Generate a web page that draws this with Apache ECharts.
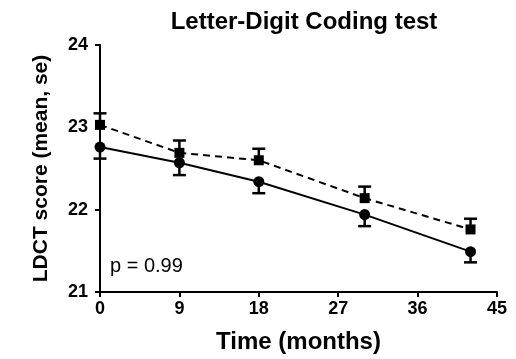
<!DOCTYPE html>
<html>
<head>
<meta charset="utf-8">
<script src="https://cdn.jsdelivr.net/npm/echarts@6/dist/echarts.min.js"></script>
<style>
  html, body { margin: 0; padding: 0; background: #fff; }
  #chart { width: 516px; height: 359px; }
</style>
</head>
<body>
<div id="chart"></div>
<script>
// Follow-up time points (months)
const months = [0, 9, 18, 30, 42];
// Group drawn with solid line and circles
const solidMean = [22.76, 22.57, 22.34, 21.94, 21.49];
const solidSe = [0.14, 0.15, 0.14, 0.14, 0.13];
// Group drawn with dashed line and squares
const dashedMean = [23.03, 22.69, 22.60, 22.14, 21.76];
const dashedSe = [0.14, 0.15, 0.14, 0.14, 0.13];
// Axis ticks
const xTicks = [0, 9, 18, 27, 36, 45];
const yTicks = [21, 22, 23, 24];

const FONT = 'Liberation Sans, Arial, sans-serif';

function pairs(xs, ys) { return xs.map((x, i) => [x, ys[i]]); }

// One-sided error bars: dir = +1 draws upward, -1 downward
function errorSeries(xs, ys, se, dir) {
  return {
    type: 'custom',
    z: 1,
    data: xs.map((x, i) => [x, ys[i], ys[i] + dir * se[i]]),
    renderItem: function (params, api) {
      const p0 = api.coord([api.value(0), api.value(1)]);
      const p1 = api.coord([api.value(0), api.value(2)]);
      const half = 6.5;
      const style = { stroke: '#000', lineWidth: 2.5 };
      return {
        type: 'group',
        children: [
          { type: 'line', shape: { x1: p0[0], y1: p0[1], x2: p1[0], y2: p1[1] }, style: style },
          { type: 'line', shape: { x1: p1[0] - half, y1: p1[1], x2: p1[0] + half, y2: p1[1] }, style: style }
        ]
      };
    }
  };
}

const chart = echarts.init(document.getElementById('chart'), null, { renderer: 'canvas' });

chart.setOption({
  animation: false,
  backgroundColor: '#fff',
  title: {
    text: 'Letter-Digit Coding test',
    left: 299,
    textAlign: 'center',
    top: 5,
    textStyle: { fontFamily: FONT, fontWeight: 'bold', fontSize: 24, color: '#000' }
  },
  grid: { left: 100, right: 19, top: 45, bottom: 65, containLabel: false },
  xAxis: {
    type: 'value',
    min: xTicks[0],
    max: xTicks[xTicks.length - 1],
    interval: xTicks[1] - xTicks[0],
    name: 'Time (months)',
    nameLocation: 'middle',
    nameGap: 38,
    nameTextStyle: { fontFamily: FONT, fontWeight: 'bold', fontSize: 24, color: '#000' },
    axisLine: { lineStyle: { color: '#000', width: 2 } },
    axisTick: { length: 5, lineStyle: { color: '#000', width: 2 } },
    axisLabel: { fontFamily: FONT, fontWeight: 'bold', fontSize: 18, color: '#000', margin: 8 },
    splitLine: { show: false }
  },
  yAxis: {
    type: 'value',
    min: yTicks[0],
    max: yTicks[yTicks.length - 1],
    interval: 1,
    name: 'LDCT score (mean, se)',
    nameLocation: 'middle',
    nameGap: 48,
    nameTextStyle: { fontFamily: FONT, fontWeight: 'bold', fontSize: 21, color: '#000' },
    axisLine: { show: true, lineStyle: { color: '#000', width: 2 } },
    axisTick: { show: true, length: 5, lineStyle: { color: '#000', width: 2 } },
    axisLabel: { fontFamily: FONT, fontWeight: 'bold', fontSize: 18, color: '#000', margin: 12 },
    splitLine: { show: false }
  },
  graphic: [{
    type: 'text',
    x: 110,
    y: 266,
    style: { text: 'p = 0.99', font: '20px ' + FONT, fill: '#000', verticalAlign: 'middle' }
  }],
  series: [
    errorSeries(months, dashedMean, dashedSe, 1),
    errorSeries(months, solidMean, solidSe, -1),
    {
      type: 'line',
      z: 2,
      data: pairs(months, dashedMean),
      symbol: 'rect',
      symbolSize: 10,
      itemStyle: { color: '#000' },
      lineStyle: { color: '#000', width: 2, type: [7, 5] }
    },
    {
      type: 'line',
      z: 2,
      data: pairs(months, solidMean),
      symbol: 'circle',
      symbolSize: 11,
      itemStyle: { color: '#000' },
      lineStyle: { color: '#000', width: 2 }
    }
  ]
});
</script>
</body>
</html>
